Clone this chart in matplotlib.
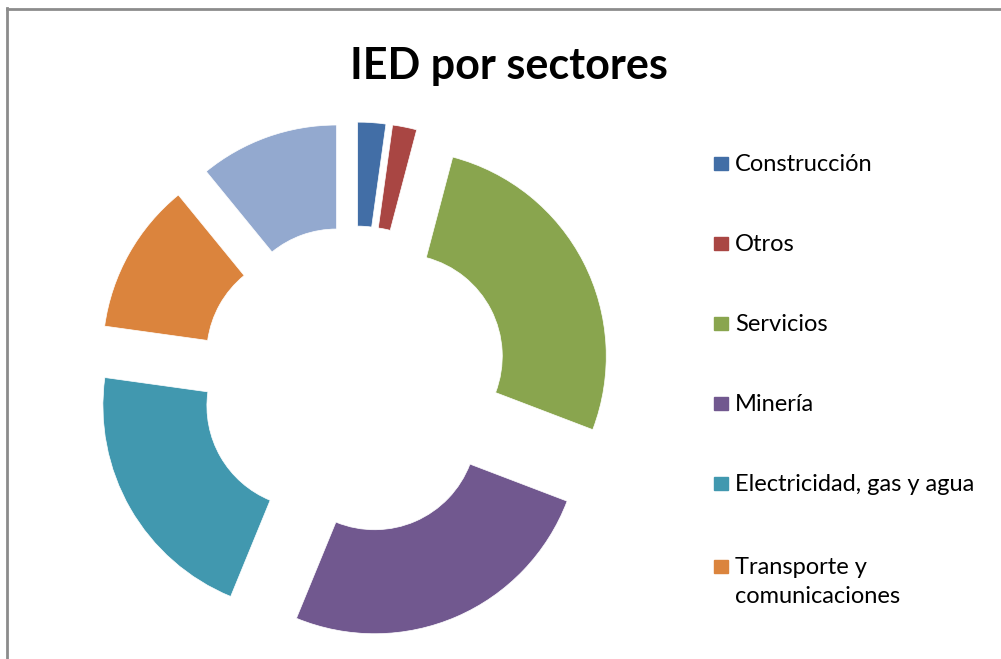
import matplotlib.pyplot as plt
from matplotlib.patches import Rectangle
from matplotlib.lines import Line2D

# IED por sectores (shares, %)
sectors = ["Construcción", "Otros", "Servicios", "Minería",
           "Electricidad, gas y agua", "Transporte y\ncomunicaciones", "Industria"]
shares = [2.2, 1.9, 26.7, 25.4, 21.0, 11.9, 10.9]
colors = ["#426EA6", "#A94643", "#89A54E", "#71588F", "#4198AF", "#DB843D", "#93A9CF"]
legend_n = 6  # the last entry is cut off in the original legend

W, H = 1001, 659
fig = plt.figure(figsize=(W / 100, H / 100), dpi=100)
plt.rcParams["font.family"] = ["Lato", "DejaVu Sans"]

# exploded donut, centre at (354, 380) px
cx, cy, half = 354, 380, 262
ax = fig.add_axes([(cx - half) / W, (H - cy - half) / H, 2 * half / W, 2 * half / H])
ax.pie(shares, colors=colors, startangle=90, counterclock=False,
       radius=206 / half, explode=[52 / half] * len(shares),
       wedgeprops=dict(width=104 / half, edgecolor="white", linewidth=0.5))
ax.set_xlim(-1, 1)
ax.set_ylim(-1, 1)
ax.set_aspect("equal")
ax.axis("off")

fig.text(509 / W, 1 - 79 / H, "IED por sectores", ha="center", va="baseline",
         fontsize=31, fontweight="bold", color="black")

# legend drawn by hand to keep Excel spacing
baselines = [171, 251, 331, 411, 491, 574]
for i in range(legend_n):
    b = baselines[i]
    fig.patches.append(Rectangle((714 / W, 1 - (b - 1) / H), 14 / W, 13 / H,
                                 transform=fig.transFigure, color=colors[i]))
    for k, line in enumerate(sectors[i].split("\n")):
        fig.text(735 / W, 1 - (b + 29 * k) / H, line, ha="left", va="baseline",
                 fontsize=17, color="black")

# chart frame (top and left edges visible)
fig.add_artist(Line2D([7 / W, 7 / W], [0, 1 - 8 / H], transform=fig.transFigure,
                      color="#8c8c8c", lw=2))
fig.add_artist(Line2D([7 / W, 1], [1 - 9 / H, 1 - 9 / H], transform=fig.transFigure,
                      color="#8c8c8c", lw=2))

fig.savefig("out.png", dpi=100)
